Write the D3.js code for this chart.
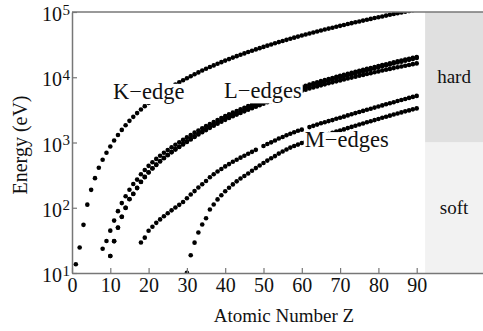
<!DOCTYPE html>
<html>
<head>
<meta charset="utf-8">
<script src="https://cdn.jsdelivr.net/npm/d3@7"></script>
<style>
  html, body { margin: 0; padding: 0; background: #fff; }
  svg { display: block; }
  text { font-family: "Liberation Serif", "Times New Roman", serif; fill: #111; }
</style>
</head>
<body>
<svg id="chart" width="483" height="331"></svg>
<script>
// Absorption edge energies (eV) by atomic number Z.
// Each series starts at its own first Z; null marks an element with no tabulated value.
const kStartZ = 1;
const kEdge = [13.6, 24.6, 54.7, 111.5, 188, 284.2, 409.9, 543.1, 696.7, 870.2,
  1070.8, 1303, 1559.6, 1839, 2145.5, 2472, 2822.4, 3205.9, 3608.4, 4038.5,
  4492, 4966, 5465, 5989, 6539, 7112, 7709, 8333, 8979, 9659,
  10367, 11103, 11867, 12658, 13474, 14326, 15200, 16105, 17038, 17998,
  18986, 20000, 21044, 22117, 23220, 24350, 25514, 26711, 27940, 29200,
  30491, 31814, 33169, 34561, 35985, 37441, 38925, 40443, 41991, 43569,
  45184, 46834, 48519, 50239, 51996, 53789, 55618, 57486, 59390, 61332,
  63314, 65351, 67416, 69525, 71676, 73871, 76111, 78395, 80725, 83102,
  85530, 88005, 90526, 93105, 95730, 98404, 101137, 103922, 106755, 109651];

const l1StartZ = 8;
const l1Edge = [23.5, 31, 44.6, 63.5, 88.7, 117.8, 149.7, 189, 230.9, 270,
  326.3, 378.6, 438.4, 498, 560.9, 626.7, 696, 769.1, 844.6, 925.1,
  1008.6, 1096.7, 1196.2, 1299, 1414.6, 1527, 1652, 1782, 1921, 2065,
  2216, 2373, 2532, 2698, 2866, 3043, 3224, 3412, 3604, 3806,
  4018, 4238, 4465, 4698, 4939, 5188, 5453, 5714, 5989, 6266,
  6549, 6835, 7126, 7428, 7737, 8052, 8376, 8708, 9046, 9394,
  9751, 10116, 10486, 10870, 11271, 11682, 12100, 12527, 12968, 13419,
  13880, 14353, 14839, 15347, 15861, 16388, 16939, 17493, 18049, 18639,
  19237, 19840, 20472];

const l2StartZ = 10;
const l2Edge = [18.2, 30.65, 49.78, 72.95, 99.82, 136, 163.6, 202, 250.6, 297.3,
  349.7, 403.6, 460.2, 519.8, 583.8, 649.9, 719.9, 793.2, 870, 952.3,
  1044.9, 1143.2, 1248.1, 1359.1, 1474.3, 1596, 1730.9, 1864, 2007, 2156,
  2307, 2465, 2625, 2793, 2967, 3146, 3330, 3524, 3727, 3938,
  4156, 4380, 4612, 4852, 5107, 5359, 5624, 5891, 6164, 6440,
  6722, 7013, 7312, 7617, 7930, 8252, 8581, 8918, 9264, 9617,
  9978, 10349, 10739, 11136, 11544, 11959, 12385, 12824, 13273, 13734,
  14209, 14698, 15200, 15711, 16244, 16785, 17337, 17907, 18484, 19083,
  19693];

const l3StartZ = 10;
const l3Edge = [18.2, 30.81, 49.5, 72.55, 99.42, 135, 162.5, 200, 248.4, 294.6,
  346.2, 398.7, 453.8, 512.1, 574.1, 638.7, 706.8, 778.1, 852.7, 932.7,
  1021.8, 1116.4, 1217, 1323.6, 1433.9, 1550, 1678.4, 1804, 1940, 2080,
  2223, 2371, 2520, 2677, 2838, 3004, 3173, 3351, 3538, 3730,
  3929, 4132, 4341, 4557, 4786, 5012, 5247, 5483, 5723, 5964,
  6208, 6459, 6716, 6977, 7243, 7514, 7790, 8071, 8358, 8648,
  8944, 9244, 9561, 9881, 10207, 10535, 10871, 11215, 11564, 11919,
  12284, 12658, 13035, 13419, 13814, 14214, 14619, 15031, 15444, 15871,
  16300];

const m1StartZ = 18;
const m1Edge = [29.3, 34.8, 44.3, 51.1, 58.7, 66.3, 74.1, 82.3, 91.3, 101,
  110.8, 122.5, 139.8, 159.5, 180.1, 204.7, 229.6, 257, 292.8, 326.7,
  358.7, 392, 430.3, 466.6, 506.3, 544, 586.1, 628.1, 671.6, 719,
  772, null, 884.7, 946, 1006, 1072, 1148.7, 1211, 1293, 1362,
  1436, 1511, 1575, null, 1723, 1800, 1881, 1968, 2047, 2128,
  2206, 2307, 2398, 2491, 2601, 2708, 2820, 2932, 3049, 3174,
  3296, 3425, 3562, 3704, 3851, 3999, 4149, 4317, 4482, 4652,
  4822, 5002, 5182];

const m5StartZ = 30;
const m5Edge = [10.1, 18.7, 29.2, 41.7, 55.5, 69, 93.8, 112, 134.2, 155.8,
  178.8, 202.3, 227.9, 253.9, 280, 307.2, 335.2, 368.3, 405.2, 443.9,
  484.9, 528.2, 573, 619.3, 676.4, 726.6, 780.5, 836, 883.8, 928.8,
  980.4, 1027, 1083.4, 1127.5, 1189.6, 1241.1, 1292.6, 1351, 1409, 1468,
  1528, 1588.5, 1661.7, 1735.1, 1809, 1882.9, 1960.1, 2040.4, 2121.6, 2205.7,
  2294.9, 2389.3, 2484, 2579.6, 2683, 2786.7, 2892.4, 3000, 3104.9, 3219,
  3332];

// Axis ticks
const xTicks = [0, 10, 20, 30, 40, 50, 60, 70, 80, 90];
const yTickExponents = [1, 2, 3, 4, 5];

// Spectral regions: hard / soft X-rays, split at 1 keV
const regionStartZ = 92.2;
const regions = [
  { name: "hard", lo: 1e3, hi: 1e5 },
  { name: "soft", lo: 1e1, hi: 1e3 }
];
const regionFill = { hard: "#e0e0e0", soft: "#f2f2f2" };

// Series labels (anchored at the start of the text baseline)
const edgeLabels = [
  { text: "K\u2212edge", z: 10.7, e: 4620 },
  { text: "L\u2212edges", z: 39.7, e: 4735 },
  { text: "M\u2212edges", z: 60.8, e: 841 }
];

const seriesList = [
  [kStartZ, kEdge], [l1StartZ, l1Edge], [l2StartZ, l2Edge],
  [l3StartZ, l3Edge], [m1StartZ, m1Edge], [m5StartZ, m5Edge]
];

const points = [];
seriesList.forEach(([z0, vals]) => {
  vals.forEach((v, i) => { if (v != null) points.push({ z: z0 + i, e: v }); });
});

const svg = d3.select("#chart");
const plot = { left: 72, top: 12, bottom: 273 };

const x = d3.scaleLinear().domain([0, 108]).range([plot.left, plot.left + 108 * 3.83]);
const y = d3.scaleLog().domain([10, 1e5]).range([plot.bottom, plot.top]);
const plotRight = x.range()[1];

// Shaded energy bands
svg.append("g").selectAll("rect").data(regions).join("rect")
  .attr("x", x(regionStartZ))
  .attr("y", d => y(d.hi))
  .attr("width", plotRight - x(regionStartZ))
  .attr("height", d => y(d.lo) - y(d.hi))
  .attr("fill", d => regionFill[d.name]);

svg.append("g").selectAll("text").data(regions).join("text")
  .attr("x", x(regionStartZ) + (483 - x(regionStartZ)) / 2)
  .attr("y", d => y(Math.sqrt(d.lo * d.hi)) + 6)
  .attr("text-anchor", "middle")
  .attr("font-size", 19)
  .text(d => d.name);

// Data points, clipped to the frame
svg.append("defs").append("clipPath").attr("id", "plotclip")
  .append("rect")
  .attr("x", plot.left).attr("y", plot.top)
  .attr("width", plotRight - plot.left).attr("height", plot.bottom - plot.top);

svg.append("g").attr("clip-path", "url(#plotclip)")
  .selectAll("circle").data(points).join("circle")
  .attr("cx", d => x(d.z))
  .attr("cy", d => y(d.e))
  .attr("r", 2.3)
  .attr("fill", "#000");

// Series labels on white boxes
const labelSize = 22.5;
const labelG = svg.append("g");
edgeLabels.forEach(l => {
  const g = labelG.append("g");
  const bx = x(l.z), by = y(l.e);
  const t = g.append("text")
    .attr("x", bx)
    .attr("y", by)
    .attr("font-size", labelSize)
    .text(l.text);
  const w = t.node().getComputedTextLength();
  g.insert("rect", "text")
    .attr("x", bx - 1).attr("y", by - 0.68 * labelSize)
    .attr("width", w + 2).attr("height", 0.9 * labelSize)
    .attr("fill", "#fff");
});

// Axes
const axisColor = "#777";
const xAxis = svg.append("g")
  .attr("transform", `translate(0,${plot.bottom})`)
  .call(d3.axisBottom(x).tickValues(xTicks).tickSizeInner(-5).tickSizeOuter(0).tickPadding(5));
xAxis.attr("font-family", null).attr("font-size", null);
xAxis.select(".domain").attr("stroke", axisColor).attr("stroke-width", 1.5);
xAxis.selectAll(".tick line").attr("stroke", axisColor).attr("stroke-width", 1.2);
xAxis.selectAll(".tick text").attr("font-size", 20).attr("fill", "#111");

const yAxis = svg.append("g")
  .attr("transform", `translate(${plot.left},0)`)
  .call(d3.axisLeft(y).tickValues(yTickExponents.map(p => Math.pow(10, p)))
    .tickSizeInner(-5).tickSizeOuter(0).tickFormat(""));
yAxis.select(".domain").attr("stroke", axisColor).attr("stroke-width", 1.5);
yAxis.selectAll(".tick line").attr("stroke", axisColor).attr("stroke-width", 1.2);
yAxis.selectAll(".tick text").remove();

// Power-of-ten tick labels
const yLab = svg.append("g").selectAll("g").data(yTickExponents).join("g")
  .attr("transform", p => `translate(62,${y(Math.pow(10, p))})`);
yLab.append("text").attr("y", 9).attr("text-anchor", "end").attr("font-size", 20).text("10");
yLab.append("text").attr("x", 0.5).attr("y", 2.5).attr("font-size", 15).text(p => p);

// Top frame line
svg.append("line")
  .attr("x1", plot.left).attr("x2", plotRight)
  .attr("y1", plot.top).attr("y2", plot.top)
  .attr("stroke", axisColor).attr("stroke-width", 1.5);

// Axis titles
svg.append("text")
  .attr("x", 284).attr("y", 322)
  .attr("text-anchor", "middle").attr("font-size", 19)
  .text("Atomic Number Z");

svg.append("text")
  .attr("transform", "translate(27,145) rotate(-90)")
  .attr("text-anchor", "middle").attr("font-size", 20)
  .text("Energy (eV)");
</script>
</body>
</html>
